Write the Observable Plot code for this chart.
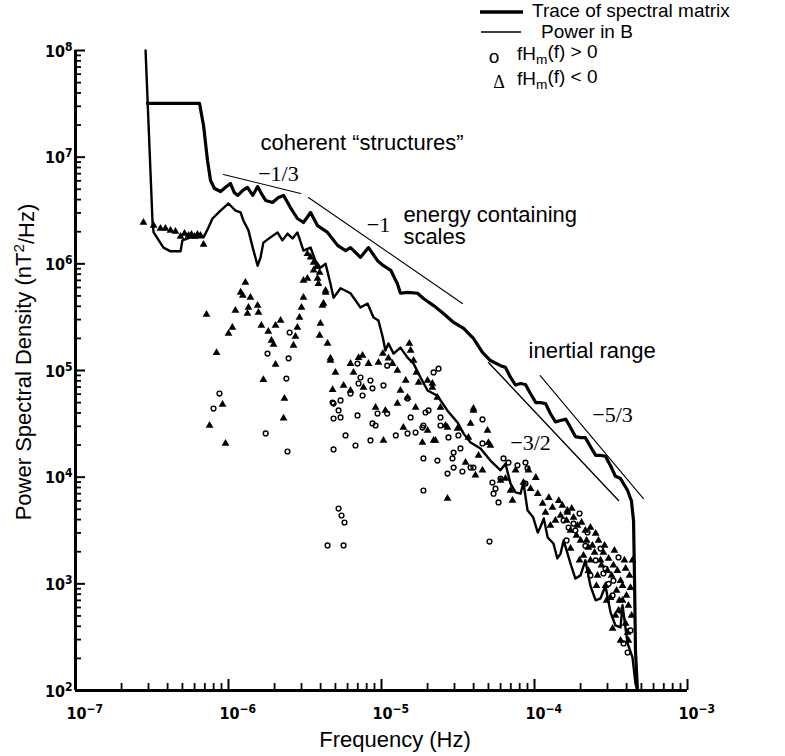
<!DOCTYPE html>
<html><head><meta charset="utf-8">
<script src="https://cdn.jsdelivr.net/npm/d3@7"></script>
<script src="https://cdn.jsdelivr.net/npm/@observablehq/plot@0.6"></script>
<style>
html,body{margin:0;padding:0;background:#fff;}
#chart{width:785px;height:756px;}
svg{display:block;}
</style></head><body><div id="chart"></div>
<script>
// ---- Trace of spectral matrix (thick curve) ----
const traceFreq = [2.95e-7,6.46e-7,6.87e-7,7.29e-7,7.63e-7,8.1e-7,8.87e-7,9.7e-7,1.03e-6,1.09e-6,1.15e-6,1.24e-6,1.33e-6,1.44e-6,1.55e-6,1.64e-6,1.75e-6,1.94e-6,2.12e-6,2.29e-6,2.54e-6,2.82e-6,3.09e-6,3.44e-6,3.82e-6,4.44e-6,5.16e-6,5.82e-6,6.27e-6,7.29e-6,8.22e-6,9.42e-6,1.03e-5,1.15e-5,1.27e-5,1.33e-5,1.48e-5,1.72e-5,1.88e-5,2.19e-5,2.54e-5,2.96e-5,3.44e-5,3.99e-5,4.57e-5,5.15e-5,6.0e-5,6.46e-5,6.97e-5,7.52e-5,8.1e-5,8.73e-5,9.4e-5,1.02e-4,1.09e-4,1.18e-4,1.27e-4,1.37e-4,1.48e-4,1.6e-4,1.72e-4,1.85e-4,2.0e-4,2.15e-4,2.32e-4,2.51e-4,2.7e-4,2.91e-4,3.14e-4,3.38e-4,3.65e-4,4.06e-4,4.3e-4,4.44e-4,4.51e-4,4.57e-4,4.71e-4];
const tracePSD = [3.2e7,3.2e7,1.98e7,9.3e6,6.04e6,5.08e6,4.76e6,5.31e6,5.66e6,4.67e6,4.38e6,4.88e6,5.2e6,4.38e6,5.3e6,4.56e6,3.93e6,3.76e6,4.19e6,4.38e6,3.37e6,2.66e6,2.44e6,3.03e6,2.28e6,1.97e6,1.49e6,1.33e6,1.42e6,1.15e6,1.42e6,1.07e6,9.6e5,8.7e5,6.5e5,5.3e5,5.4e5,5.3e5,4.73e5,4.06e5,3.42e5,2.82e5,2.48e5,2.0e5,1.48e5,1.24e5,1.11e5,1.07e5,8.6e4,7.3e4,7.55e4,7.4e4,6.08e4,5.0e4,5.0e4,4.9e4,3.95e4,3.3e4,3.4e4,3.5e4,2.92e4,2.4e4,2.35e4,2.35e4,1.94e4,1.6e4,1.6e4,1.57e4,1.28e4,1.02e4,9.7e3,7.5e3,6.0e3,3.9e3,1.0e3,2.37e2,1e2];

// ---- Power in B (thin curve) ----
const powerFreq = [2.87e-7,3.19e-7,3.24e-7,3.76e-7,4.18e-7,4.86e-7,5.0e-7,5.65e-7,6.87e-7,7.4e-7,7.86e-7,8.87e-7,1.0e-6,1.11e-6,1.2e-6,1.25e-6,1.35e-6,1.44e-6,1.55e-6,1.62e-6,1.69e-6,1.88e-6,2.09e-6,2.25e-6,2.43e-6,2.62e-6,2.82e-6,3.09e-6,3.44e-6,3.7e-6,3.99e-6,4.31e-6,4.64e-6,4.86e-6,5.4e-6,6.27e-6,7.29e-6,8.1e-6,8.87e-6,9.55e-6,1.02e-5,1.06e-5,1.11e-5,1.2e-5,1.33e-5,1.48e-5,1.62e-5,1.8e-5,2.0e-5,2.32e-5,2.7e-5,3.14e-5,3.44e-5,3.82e-5,4.44e-5,5.15e-5,6.0e-5,6.46e-5,6.97e-5,7.52e-5,8.1e-5,8.47e-5,9.0e-5,9.8e-5,1.05e-4,1.09e-4,1.15e-4,1.22e-4,1.33e-4,1.41e-4,1.48e-4,1.55e-4,1.72e-4,1.85e-4,2.0e-4,2.15e-4,2.32e-4,2.51e-4,2.7e-4,2.91e-4,3.14e-4,3.38e-4,3.65e-4,3.76e-4,4.06e-4,4.37e-4,4.57e-4,4.71e-4];
const powerPSD = [1e8,2.39e6,1.97e6,1.42e6,1.31e6,1.31e6,1.66e6,1.77e6,1.77e6,2.19e6,2.66e6,3.16e6,3.68e6,3.16e6,3.03e6,2.55e6,2.06e6,1.42e6,9.6e5,1.15e6,1.58e6,1.77e6,1.97e6,1.66e6,1.92e6,1.73e6,1.97e6,1.33e6,1.42e6,1.07e6,9.2e5,1.0e6,6.5e5,4.8e5,5.9e5,5.3e5,3.9e5,4.25e5,3.14e5,2.94e5,2.04e5,1.54e5,1.79e5,1.44e5,1.64e5,1.32e5,1.16e5,8.6e4,6.5e4,5.8e4,4.2e4,3.26e4,2.56e4,2.11e4,1.86e4,1.43e4,1.16e4,1.34e4,8.7e3,7.2e3,7.0e3,8.9e3,4.9e3,4.2e3,3.03e3,3.37e3,4.1e3,2.72e3,2.39e3,1.73e3,1.92e3,2.55e3,1.55e3,1.12e3,1.2e3,1.66e3,9.6e2,7.0e2,7.3e2,9.6e2,5.4e2,4.07e2,3.9e2,6.3e2,2.76e2,2.04e2,1.16e2,1e2];

// ---- fHm(f) < 0 (triangles) ----
const negFreq = [2.78e-7,3.24e-7,3.59e-7,3.87e-7,4.18e-7,4.5e-7,4.86e-7,5.16e-7,5.48e-7,5.73e-7,6.0e-7,6.27e-7,6.56e-7,6.87e-7,1.29e-6,1.2e-6,1.24e-6,1.39e-6,1.35e-6,1.55e-6,1.57e-6,1.33e-6,7.18e-7,1.11e-6,1.06e-6,1.0e-6,8.35e-7,9.14e-7,7.52e-7,9.56e-7,1.64e-6,1.82e-6,1.91e-6,1.97e-6,2.19e-6,2.03e-6,2.82e-6,2.74e-6,2.66e-6,2.91e-6,3.0e-6,3.09e-6,2.03e-6,1.69e-6,2.32e-6,2.29e-6,3.28e-6,3.6e-6,3.82e-6,4.11e-6,4.31e-6,3.99e-6,3.94e-6,4.44e-6,4.64e-6,5.0e-6,4.79e-6,3.44e-6,3.6e-6,3.28e-6,3.76e-6,3.94e-6,3.09e-6,3.87e-6,4.31e-6,4.18e-6,4.64e-6,5.65e-6,6.27e-6,6.56e-6,7.08e-6,7.52e-6,8.22e-6,9.55e-6,1.02e-5,1.11e-5,1.18e-5,1.27e-5,1.44e-5,1.33e-5,1.48e-5,2.0e-5,2.15e-5,2.32e-5,2.43e-5,2.7e-5,3.14e-5,3.99e-5,3.7e-5,5.15e-5,6.27e-6,7.62e-6,9.14e-6,1.06e-5,1.27e-5,1.39e-5,1.67e-5,2.19e-5,1.03e-5,1.55e-5,1.62e-5,1.69e-5,1.75e-5,1.52e-5,2.15e-5,2.0e-5,1.85e-5,2.25e-5,2.62e-5,3.99e-5,3.82e-5,4.93e-5,5.0e-5,4.31e-5,2.7e-5,4.57e-5,8.47e-5,1.02e-4,1.05e-4,1.24e-4,1.44e-4,1.31e-4,1.64e-4,1.13e-4,1.37e-4,1.48e-4,2.51e-4,3.94e-4,4.24e-4,2.7e-4,3.14e-4,3.54e-4,3.94e-4,2.25e-4,2.0e-4,1.72e-4,1.8e-4,1.64e-4,2.15e-4,2.39e-4,2.82e-4,3.0e-4,3.28e-4,3.65e-4,3.44e-4,3.76e-4,4.11e-4,2.91e-4,2.58e-4,2.32e-4,1.91e-4,2.09e-4,3.24e-4,3.65e-4,4.06e-4,3.54e-5,4.11e-5,6.0e-5,6.97e-5,7.52e-5,
  1.52e-4,1.62e-4,1.75e-4,1.88e-4,2.03e-4,2.19e-4,2.32e-4,2.47e-4,2.62e-4,2.74e-4,2.87e-4,3.05e-4,3.19e-4,3.33e-4,3.48e-4,3.59e-4,3.76e-4,3.87e-4,3.99e-4,4.18e-4,4.31e-4,4.37e-4,4.11e-4,3.38e-4,2.96e-4,2.54e-4,2.25e-4,1.97e-4,1.72e-4,6.46e-5,7.18e-5,9.42e-5,1.18e-4,1.27e-4,9.14e-5];
const negPSD = [2.44e6,2.29e6,2.14e6,2.14e6,2.05e6,2.01e6,1.8e6,1.92e6,1.84e6,1.88e6,1.8e6,1.88e6,1.84e6,1.52e6,6.68e5,5.4e5,5.05e5,4.83e5,3.9e5,4.07e5,3.5e5,3.42e5,3.35e5,3.65e5,2.53e5,2.22e5,1.47e5,4.8e4,3.05e4,2.07e4,2.64e5,2.32e5,1.91e5,1.75e5,2.94e5,2.64e5,2.53e5,2.08e5,1.72e5,3.14e5,3.9e5,4.83e5,1.14e5,8.2e4,5.47e4,3.56e4,7.3e5,8.7e5,7.3e5,4.07e5,5.4e5,2.76e5,2.13e5,1.79e5,1.24e5,9.6e4,6.6e4,1.15e6,1.03e6,1.24e6,9.4e5,8.3e5,6.98e5,6.5e5,5.62e5,4.25e5,1.3e5,7.24e4,1.16e5,9.6e4,1.32e5,1.38e5,1.16e5,1.19e5,1.44e5,1.3e5,1.16e5,1.0e5,8.05e4,6.5e4,5.58e4,8.05e4,6.93e4,5.58e4,4.5e4,2.92e4,2.86e4,4.4e4,2.36e4,1.98e4,6.5e4,6.93e4,4.5e4,4.22e4,4.9e4,2.92e4,4.5e4,2.21e4,2.21e4,1.54e5,1.24e5,9.6e4,7.72e4,1.79e5,7.55e4,2.74e4,2.11e4,2.21e4,3.05e4,4.22e4,3.19e4,2.74e4,2.1e4,1.6e4,6.3e3,1.16e4,8.9e3,9.9e3,7.0e3,6.4e3,6.0e3,5.2e3,4.67e3,5.66e3,3.93e3,4.37e3,2.96e3,1.39e3,9.2e2,1.66e3,7.4e2,5.62e2,4.25e2,2.19e3,2.55e3,3.16e3,4.19e3,4.87e3,3.16e3,2.29e3,1.97e3,1.33e3,1.49e3,1.07e3,8.66e2,6.98e2,6.27e2,9.6e2,1.2e3,1.66e3,3.52e3,1.84e3,3.81e2,2.94e2,3.5e2,1.37e4,1.04e4,9.3e3,7.5e3,1.16e4,
  5.42e3,3.93e3,5.08e3,2.84e3,3.76e3,2.55e3,3.37e3,1.97e3,2.55e3,1.49e3,2.29e3,1.73e3,1.2e3,2.05e3,1.33e3,6.98e2,9.6e2,1.66e3,7.78e2,1.2e3,5.05e2,1.66e3,2.94e2,5.05e2,6.98e2,9.6e2,1.33e3,1.66e3,2.14e3,9.7e3,6.04e3,7.8e3,4.67e3,3.52e3,1.16e4];

// ---- fHm(f) > 0 (circles) ----
const posFreq = [2.51e-6,1.8e-6,2.47e-6,2.39e-6,8.73e-7,7.98e-7,1.75e-6,2.43e-6,4.86e-6,4.86e-6,6.97e-6,7.29e-6,8.47e-6,8.73e-6,7.08e-6,7.52e-6,6.27e-6,4.79e-6,5.4e-6,5.24e-6,5.4e-6,6.97e-6,9.42e-6,1.03e-5,1.09e-5,8.73e-6,9.14e-6,1.48e-5,1.55e-5,1.88e-5,2.03e-5,2.43e-5,2.19e-5,2.36e-5,5.82e-6,6.76e-6,8.47e-6,1.24e-5,1.48e-5,1.67e-5,2.43e-5,4.57e-5,4.57e-5,1.09e-5,4.86e-6,1.94e-5,1.85e-5,1.88e-5,1.88e-5,2.32e-5,2.7e-5,2.91e-5,2.96e-5,2.74e-5,3.18e-5,3.28e-5,2.96e-5,3.38e-5,3.82e-5,3.99e-5,5.08e-5,5.31e-5,5.56e-5,5.4e-5,5.82e-5,6.27e-5,6.76e-5,7.74e-5,8.73e-5,9.0e-5,8.73e-5,6.0e-5,1.97e-4,1.55e-4,2.22e-4,1.8e-4,1.67e-4,3.54e-4,4.06e-4,3.82e-4,3.05e-4,2.82e-4,3.28e-4,5.24e-6,5.48e-6,5.73e-6,4.44e-6,5.65e-6,
  2.15e-4,2.51e-4,2.91e-4,3.24e-4,3.65e-4,4.24e-4,1.85e-4,1.62e-4,2.7e-4,2.32e-4];
const posPSD = [2.27e5,1.44e5,1.3e5,8.4e4,6.08e4,4.4e4,2.57e4,1.74e4,1.82e4,4.9e4,1.16e5,8.6e4,8.05e4,6.8e4,7.55e4,5.83e4,6.08e4,5.0e4,5.24e4,4.22e4,3.63e4,3.79e4,3.95e4,7.24e4,3.95e4,3.19e4,3.05e4,5.47e4,3.63e4,3.05e4,4.22e4,3.63e4,9.6e4,1.04e5,2.46e4,1.98e4,2.21e4,2.46e4,2.57e4,2.62e4,3.05e4,3.48e4,2.07e4,1.11e5,3.55e4,4.04e4,2.92e4,1.5e4,7.5e3,1.43e4,1.08e4,1.5e4,1.7e4,2.36e4,2.46e4,1.86e4,1.23e4,1.13e4,1.23e4,1.23e4,2.49e3,8.9e3,7.8e3,7.0e3,5.8e3,1.5e4,1.37e4,1.29e4,1.37e4,1.21e4,8.7e3,9.7e3,4.56e3,3.93e3,3.03e3,3.67e3,3.37e3,1.77e3,2.27e2,2.76e2,1.0e3,1.25e3,1.07e3,5.08e3,4.37e3,3.76e3,2.29e3,2.29e3,
  2.27e3,1.66e3,1.39e3,7.78e2,5.62e2,3.66e2,3.16e3,2.55e3,2.14e3,1.2e3];

// ---- reference power-law slopes ----
const slope13Freq = [9.27e-7, 2.96e-6], slope13PSD = [6.89e6, 4.56e6];
const slope1Freq  = [3.33e-6, 3.38e-5], slope1PSD  = [4.19e6, 4.25e5];
const slope32Freq = [5.0e-5, 3.54e-4],  slope32PSD = [1.19e5, 6.04e3];
const slope53Freq = [1.09e-4, 5.15e-4], slope53PSD = [8.97e4, 6.3e3];

// ---- axis ticks ----
const xMajor = [1e-7, 1e-6, 1e-5, 1e-4, 1e-3];
const xTickLabels = ["10^\u22127", "10^\u22126", "10^\u22125", "10^\u22124", "10^\u22123"];
const yMajor = [1e2, 1e3, 1e4, 1e5, 1e6, 1e7, 1e8];
const yTickLabels = ["10^2", "10^3", "10^4", "10^5", "10^6", "10^7", "10^8"];
const minorMult = [2, 3, 4, 5, 6, 7, 8, 9];
const xMinor = xMajor.slice(0, -1).flatMap(d => minorMult.map(m => d * m));
const yMinor = yMajor.slice(0, -1).flatMap(d => minorMult.map(m => d * m));

// ---- annotations (anchor in data coords) ----
const annotations = [
  {text: "coherent \u201cstructures\u201d", f: 1.62e-6, p: 1.37e7, serif: false},
  {text: "\u22121/3", f: 2.12e-6, p: 6.9e6, serif: true},
  {text: "\u22121", f: 9.55e-6, p: 2.33e6, serif: true},
  {text: "energy containing", f: 1.39e-5, p: 2.9e6, serif: false},
  {text: "scales", f: 1.39e-5, p: 1.77e6, serif: false},
  {text: "inertial range", f: 9.14e-5, p: 1.51e5, serif: false},
  {text: "\u22125/3", f: 3.24e-4, p: 3.87e4, serif: true},
  {text: "\u22123/2", f: 9.42e-5, p: 2.11e4, serif: true}
];

const zip = (fs, ps) => fs.map((f, i) => ({f, p: ps[i]}));
const sans = "'Liberation Sans', Arial, Helvetica, sans-serif";
const serif = "'Liberation Serif', 'Times New Roman', serif";
const tickFont = "'Liberation Sans Narrow', 'DejaVu Sans Condensed', sans-serif";

const chart = Plot.plot({
  width: 785, height: 756,
  marginLeft: 75, marginRight: 98, marginTop: 50, marginBottom: 66,
  style: {background: "white", color: "black"},
  x: {type: "log", domain: [1e-7, 1e-3], axis: null},
  y: {type: "log", domain: [1e2, 1e8], axis: null},
  marks: [
    Plot.line(zip(slope13Freq, slope13PSD), {x: "f", y: "p", stroke: "black", strokeWidth: 1.1}),
    Plot.line(zip(slope1Freq, slope1PSD), {x: "f", y: "p", stroke: "black", strokeWidth: 1.1}),
    Plot.line(zip(slope32Freq, slope32PSD), {x: "f", y: "p", stroke: "black", strokeWidth: 1.4}),
    Plot.line(zip(slope53Freq, slope53PSD), {x: "f", y: "p", stroke: "black", strokeWidth: 1.1}),
    Plot.line(zip(powerFreq, powerPSD), {x: "f", y: "p", stroke: "black", strokeWidth: 2.4, strokeLinejoin: "round"}),
    Plot.line(zip(traceFreq, tracePSD), {x: "f", y: "p", stroke: "black", strokeWidth: 3.2, strokeLinejoin: "round"}),
    Plot.dot(zip(negFreq, negPSD), {x: "f", y: "p", symbol: "triangle", r: 2.9, fill: "black", stroke: "none"}),
    Plot.dot(zip(posFreq, posPSD), {x: "f", y: "p", symbol: "circle", r: 2.4, fill: "none", stroke: "black", strokeWidth: 1.4}),
    // axis lines
    Plot.ruleX([1e-7], {y1: 1e2, y2: 1e8, stroke: "black", strokeWidth: 3}),
    Plot.ruleY([1e2], {x1: 1e-7, x2: 1e-3, stroke: "black", strokeWidth: 3}),
    // inward ticks
    Plot.ruleY(yMajor.slice(1), {x1: 1e-7, x2: 1e-7, insetRight: -10, stroke: "black", strokeWidth: 2}),
    Plot.ruleY(yMinor, {x1: 1e-7, x2: 1e-7, insetRight: -6, stroke: "black", strokeWidth: 1.8}),
    Plot.ruleX(xMajor.slice(1), {y1: 1e2, y2: 1e2, insetTop: -11, stroke: "black", strokeWidth: 2}),
    Plot.ruleX(xMinor, {y1: 1e2, y2: 1e2, insetTop: -7, stroke: "black", strokeWidth: 1.8}),
    // tick labels
    Plot.text(xMajor, {x: d => d, y: 1e2, text: (d, i) => xTickLabels[i], textAnchor: "start", dx: -9, dy: 23,
      fontFamily: tickFont, fontWeight: "bold", fontSize: 16, fill: "black"}),
    Plot.text(yMajor, {x: 1e-7, y: d => d, text: (d, i) => yTickLabels[i], textAnchor: "end", dx: -3, dy: 1,
      fontFamily: tickFont, fontWeight: "bold", fontSize: 16, fill: "black"}),
    // annotations
    Plot.text(annotations.filter(a => !a.serif), {x: "f", y: "p", text: "text", textAnchor: "start",
      fontFamily: sans, fontSize: 22, fill: "black"}),
    Plot.text(annotations.filter(a => a.serif), {x: "f", y: "p", text: "text", textAnchor: "middle",
      fontFamily: serif, fontSize: 22, fill: "black"})
  ]
});

const svg = d3.select(chart);
// superscripts for tick labels
svg.selectAll("text").each(function() {
  const m = /^10\^(.+)$/.exec(this.textContent);
  if (m) {
    const s = d3.select(this);
    s.text("10");
    s.append("tspan").attr("dy", "-0.5em").attr("font-size", "0.75em").text(m[1]);
  }
});

// axis titles
const ty = svg.append("text").attr("transform", "translate(31,362) rotate(-90)")
  .attr("text-anchor", "middle").attr("font-family", sans).attr("font-size", 22).attr("fill", "black");
ty.append("tspan").text("Power Spectral Density (nT");
ty.append("tspan").attr("dy", "-0.45em").attr("font-size", "0.7em").text("2");
ty.append("tspan").attr("dy", "0.45em").text("/Hz)");
svg.append("text").attr("x", 395).attr("y", 747).attr("text-anchor", "middle")
  .attr("font-family", sans).attr("font-size", 22).attr("fill", "black").text("Frequency (Hz)");

// legend
const lg = svg.append("g").attr("fill", "black").attr("font-family", sans).attr("font-size", 19).attr("text-anchor", "start");
lg.append("line").attr("x1", 480).attr("x2", 523).attr("y1", 12).attr("y2", 12).attr("stroke", "black").attr("stroke-width", 3.5);
lg.append("text").attr("x", 532).attr("y", 17).attr("text-anchor", "start").text("Trace of spectral matrix");
lg.append("line").attr("x1", 481).attr("x2", 521).attr("y1", 32).attr("y2", 32).attr("stroke", "black").attr("stroke-width", 1.5);
lg.append("text").attr("x", 541).attr("y", 38).attr("text-anchor", "start").text("Power in B");
lg.append("text").attr("x", 494).attr("y", 63).attr("text-anchor", "middle").text("o");
lg.append("text").attr("x", 499).attr("y", 88).attr("text-anchor", "middle").attr("font-family", serif).attr("font-size", 18).text("\u0394");
[["(f) > 0", 60], ["(f) < 0", 85]].forEach(([rest, y]) => {
  const t = lg.append("text").attr("x", 517).attr("y", y).attr("text-anchor", "start");
  t.append("tspan").text("fH");
  t.append("tspan").attr("dy", "0.3em").attr("font-size", "0.72em").text("m");
  t.append("tspan").attr("dy", "-0.3em").text(rest);
});

document.getElementById("chart").appendChild(chart);
</script>
</body></html>
